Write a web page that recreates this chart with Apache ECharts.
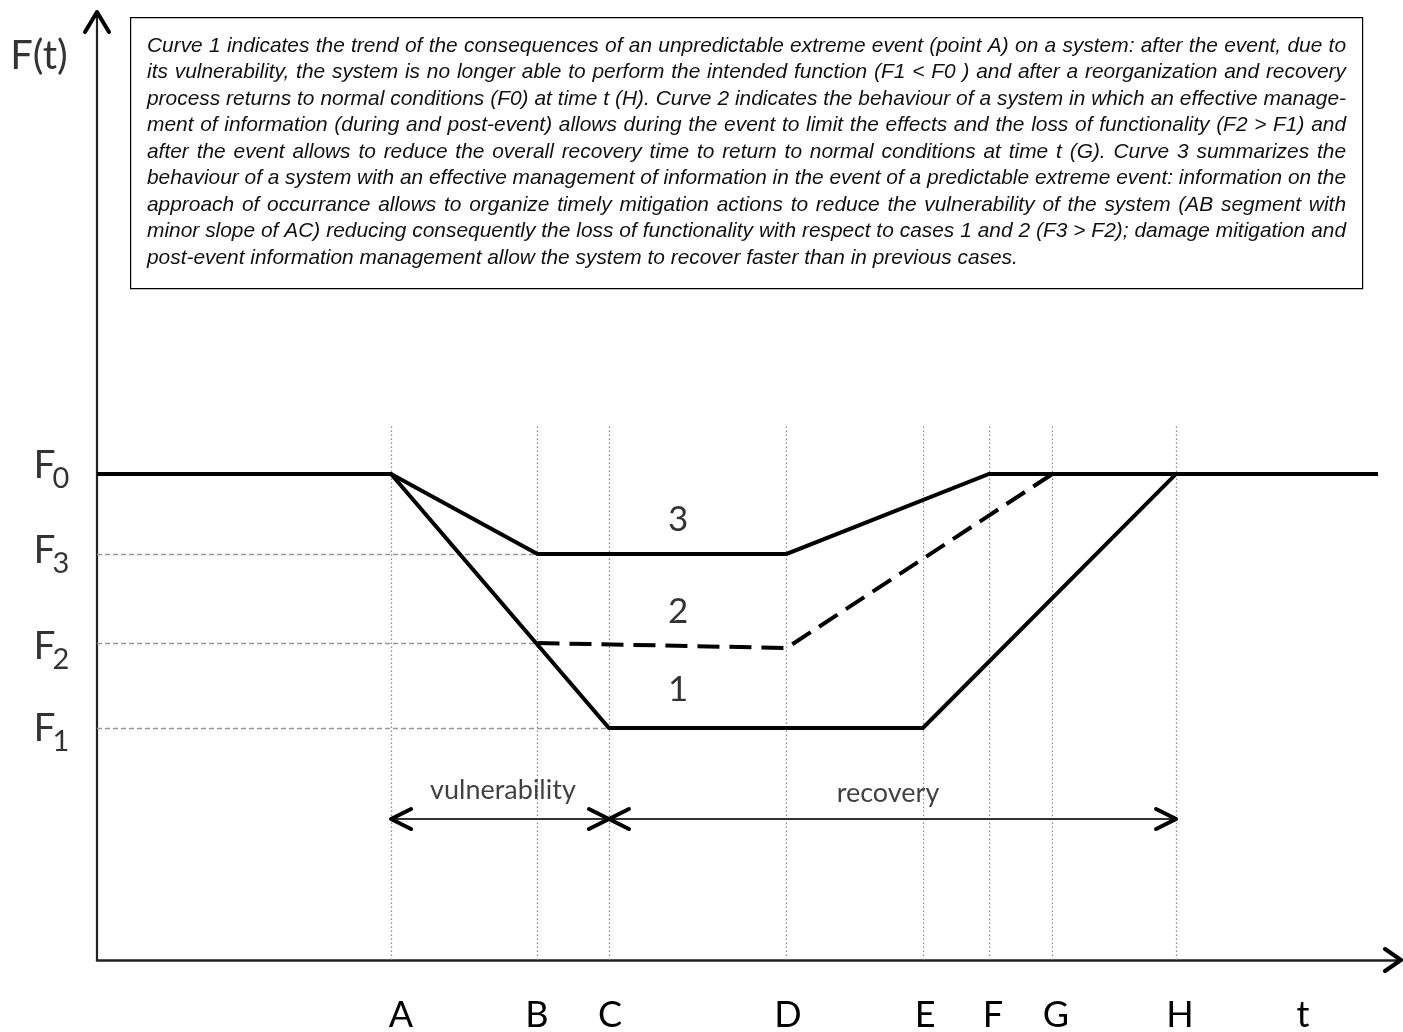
<!DOCTYPE html>
<html>
<head>
<meta charset="utf-8">
<script src="https://cdn.jsdelivr.net/npm/echarts@6/dist/echarts.min.js"></script>
<style>
html,body{margin:0;padding:0;background:#ffffff;}
#chart{width:1403px;height:1032px;}
</style>
</head>
<body>
<div id="chart"></div>
<script>
// ---------------- data (axis units: x 0..100, y 0..100) ----------------
const pointNames = ['A', 'B', 'C', 'D', 'E', 'F', 'G', 'H'];
const pointX = [22.55, 33.78, 39.26, 52.88, 63.34, 68.40, 73.27, 82.75];
const tickLabels = ['A', 'B', 'C', 'D', 'E', 'F', 'G', 'H', 't'];
const tickLabelX = [23.31, 33.74, 39.34, 52.99, 63.50, 68.71, 73.54, 83.05, 92.48];

const levelSubs = ['0', '3', '2', '1'];
const levelY = [51.27, 42.83, 33.44, 24.47];          // F0, F3, F2, F1
const levelLabelY = [52.22, 43.25, 33.12, 24.47];
const levelLetterX = -4.03;
const levelSubX = -2.76;

const yAxisTitle = 'F(t)';
const yAxisTitlePos = [-4.45, 95.36];

const curve1 = [[0, 51.27], [22.55, 51.27], [39.26, 24.47], [63.34, 24.47], [82.75, 51.27], [98.24, 51.27]];
const curve2 = [[33.78, 33.44], [52.88, 32.91], [73.27, 51.27]];
const curve3 = [[22.55, 51.27], [33.78, 42.83], [52.88, 42.83], [68.40, 51.27], [82.75, 51.27]];
const curveNames = ['3', '2', '1'];
const curveLabelPos = [[44.56, 46.41], [44.56, 36.71], [44.56, 28.48]];

const guideTop = 56.43;
const levelGuides = [[42.83, 33.78], [33.44, 33.78], [24.47, 39.26]]; // [level, end x]

const spanY = 14.87;
const spans = [[22.55, 39.26], [39.26, 82.75]];
const spanNames = ['vulnerability', 'recovery'];
const spanLabelPos = [[31.13, 17.93], [60.66, 17.62]];

const axisEnds = [[100, 0, 'right'], [0, 100, 'up']];

const noteLines = [
  'Curve 1 indicates the trend of the consequences of an unpredictable extreme event (point A) on a system: after the event, due to',
  'its vulnerability, the system is no longer able to perform the intended function (F1 < F0 ) and after a reorganization and recovery',
  'process returns to normal conditions (F0) at time t (H). Curve 2 indicates the behaviour of a system in which an effective manage-',
  'ment of information (during and post-event) allows during the event to limit the effects and the loss of functionality (F2 > F1) and',
  'after the event allows to reduce the overall recovery time to return to normal conditions at time t (G). Curve 3 summarizes the',
  'behaviour of a system with an effective management of information in the event of a predictable extreme event: information on the',
  'approach of occurrance allows to organize timely mitigation actions to reduce the vulnerability of the system (AB segment with',
  'minor slope of AC) reducing consequently the loss of functionality with respect to cases 1 and 2 (F3 > F2); damage mitigation and',
  'post-event information management allow the system to recover faster than in previous cases.'
];

// ---------------- styling ----------------
const LABEL_FONT = 'Lato';
const ARROW_STYLE = {
  axisright: { depth: 16, half: 11, width: 4 },
  axisup: { depth: 20, half: 12, width: 4 },
  span: { depth: 20, half: 10, width: 4 }
};

// arrow tips: built from the axis ends and spans
const arrowTips = axisEnds.map(function (a) { return { x: a[0], y: a[1], dir: a[2], kind: 'axis' + a[2] }; });
spans.forEach(function (s) {
  arrowTips.push({ x: s[0], y: spanY, dir: 'left', kind: 'span' });
  arrowTips.push({ x: s[1], y: spanY, dir: 'right', kind: 'span' });
});

const chart = echarts.init(document.getElementById('chart'), null, { renderer: 'canvas' });

function labelScatter(data, texts, fontSize, labelExtra) {
  return {
    type: 'scatter',
    data: data,
    symbolSize: 1,
    itemStyle: { color: 'rgba(0,0,0,0)' },
    clip: false,
    silent: true,
    z: 5,
    label: Object.assign({
      show: true,
      position: 'inside',
      formatter: function (p) { return texts[p.dataIndex]; },
      fontFamily: LABEL_FONT,
      fontSize: fontSize,
      color: '#000',
      align: 'center',
      verticalAlign: 'middle'
    }, labelExtra || {})
  };
}

const DIRS = { right: [1, 0], left: [-1, 0], up: [0, -1] };

const option = {
  animation: false,
  backgroundColor: '#ffffff',
  grid: { left: 97, right: 2, top: 12, bottom: 72, containLabel: false, outerBoundsMode: 'none' },
  xAxis: {
    type: 'value', min: 0, max: 100,
    splitLine: { show: false },
    axisTick: { show: false },
    axisLine: { show: true, onZero: false, symbol: 'none', lineStyle: { color: '#222', width: 2.5 } },
    axisLabel: {
      show: true,
      customValues: tickLabelX,
      formatter: function (v) { const i = tickLabelX.indexOf(v); return i >= 0 ? tickLabels[i] : ''; },
      fontFamily: LABEL_FONT, fontSize: 36, color: '#000',
      margin: 37, lineHeight: 36
    }
  },
  yAxis: {
    type: 'value', min: 0, max: 100,
    splitLine: { show: false },
    axisTick: { show: false },
    axisLabel: { show: false },
    axisLine: { show: true, onZero: false, symbol: 'none', lineStyle: { color: '#222', width: 2.2 } }
  },
  series: [
    {
      type: 'lines', coordinateSystem: 'cartesian2d', silent: true, z: 1,
      data: pointX.map(function (x) { return { coords: [[x, 0], [x, guideTop]] }; }),
      lineStyle: { color: '#8a8a8a', width: 1.3, type: [1.5, 2.5], opacity: 1 },
      symbol: ['none', 'none']
    },
    {
      type: 'lines', coordinateSystem: 'cartesian2d', silent: true, z: 1,
      data: levelGuides.map(function (g) { return { coords: [[0, g[0]], [g[1], g[0]]] }; }),
      lineStyle: { color: '#999', width: 1.3, type: [5, 3], opacity: 1 },
      symbol: ['none', 'none']
    },
    {
      name: 'Curve 1', type: 'line', data: curve1, showSymbol: false, symbol: 'none', z: 3, silent: true,
      lineStyle: { color: '#000', width: 4, join: 'miter' }
    },
    {
      name: 'Curve 2', type: 'line', data: curve2, showSymbol: false, symbol: 'none', z: 3, silent: true,
      lineStyle: { color: '#000', width: 4, type: [22, 10] }
    },
    {
      name: 'Curve 3', type: 'line', data: curve3, showSymbol: false, symbol: 'none', z: 3, silent: true,
      lineStyle: { color: '#000', width: 4, join: 'miter' }
    },
    {
      type: 'lines', coordinateSystem: 'cartesian2d', silent: true, z: 4,
      data: spans.map(function (s) { return { coords: [[s[0], spanY], [s[1], spanY]] }; }),
      lineStyle: { color: '#333', width: 2, opacity: 1 },
      symbol: ['none', 'none']
    },
    {
      type: 'custom', coordinateSystem: 'cartesian2d', silent: true, z: 6, clip: false,
      data: arrowTips.map(function (a) { return [a.x, a.y]; }),
      renderItem: function (params, api) {
        const a = arrowTips[params.dataIndex];
        const st = ARROW_STYLE[a.kind];
        const p = api.coord([api.value(0), api.value(1)]);
        const d = DIRS[a.dir];
        const n = [-d[1], d[0]];
        const bx = p[0] - d[0] * st.depth, by = p[1] - d[1] * st.depth;
        return {
          type: 'polyline',
          shape: { points: [[bx + n[0] * st.half, by + n[1] * st.half], [p[0], p[1]], [bx - n[0] * st.half, by - n[1] * st.half]] },
          style: { stroke: '#000', lineWidth: st.width, fill: null, lineJoin: 'round', lineCap: 'round' }
        };
      }
    },
    labelScatter(curveLabelPos, curveNames, 35),
    labelScatter(spanLabelPos, spanNames, 27, { color: '#111' }),
    labelScatter(levelLabelY.map(function (y) { return [levelLetterX, y]; }), levelSubs.map(function () { return 'F'; }), 39),
    labelScatter(levelLabelY.map(function (y) { return [levelSubX, y]; }), levelSubs, 29, { offset: [0, 14] }),
    labelScatter([yAxisTitlePos], [yAxisTitle], 40)
  ]
};

// ---------------- justified note box ----------------
const BOX = { left: 130, top: 17, width: 1232, height: 271 };
const TEXT_LEFT = 147, TEXT_RIGHT = 1346, LAST_LINE_WIDTH = 875;
const FIRST_LINE_Y = 46, LINE_STEP = 26.5;
const NOTE_FAMILY = '"Liberation Sans", Arial, sans-serif';

const ctx = document.createElement('canvas').getContext('2d');
function measure(text, fs) { ctx.font = 'italic ' + fs + 'px ' + NOTE_FAMILY; return ctx.measureText(text).width; }

let fs = 100 * LAST_LINE_WIDTH / measure(noteLines[noteLines.length - 1], 100);
for (let i = 0; i < noteLines.length - 1; i++) {
  const w = measure(noteLines[i], fs);
  if (w > TEXT_RIGHT - TEXT_LEFT) fs = fs * (TEXT_RIGHT - TEXT_LEFT) / w;
}
fs = Math.round(fs * 10) / 10;

const graphics = [{
  type: 'rect', left: BOX.left, top: BOX.top, z: 0, silent: true,
  shape: { width: BOX.width, height: BOX.height },
  style: { fill: '#fff', stroke: '#000', lineWidth: 1.2 }
}];
const fontStr = 'italic ' + fs + 'px ' + NOTE_FAMILY;
noteLines.forEach(function (line, li) {
  const y = FIRST_LINE_Y + li * LINE_STEP;
  const words = line.split(' ');
  const justify = li < noteLines.length - 1 && words.length > 1;
  const widths = words.map(function (w) { return measure(w, fs); });
  const sum = widths.reduce(function (a, b) { return a + b; }, 0);
  const gap = justify ? (TEXT_RIGHT - TEXT_LEFT - sum) / (words.length - 1) : measure(' ', fs);
  let x = TEXT_LEFT;
  words.forEach(function (w, wi) {
    graphics.push({
      type: 'text', x: x, y: y, z: 10, silent: true,
      style: { text: w, font: fontStr, fill: '#111', align: 'left', verticalAlign: 'middle',
               textAlign: 'left', textVerticalAlign: 'middle' }
    });
    x += widths[wi] + gap;
  });
});
option.graphic = { elements: graphics };

chart.setOption(option);
</script>
</body>
</html>
